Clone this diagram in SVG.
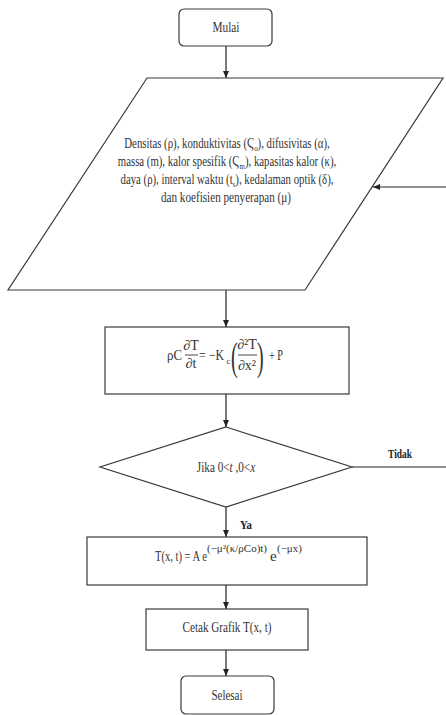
<svg xmlns="http://www.w3.org/2000/svg" width="446" height="715" viewBox="0 0 446 715">
<style>
.s{fill:#fff;stroke:#3a3a3a;stroke-width:1.2}
.c{fill:none;stroke:#222;stroke-width:1.2}
.t{font-family:"Liberation Serif","Times New Roman",serif;fill:#333;font-size:14px}
.b{font-family:"Liberation Serif","Times New Roman",serif;fill:#222;font-size:13px;font-weight:bold}
.m{font-family:"Liberation Serif","Times New Roman",serif;fill:#333}
</style>
<defs>
<marker id="ah" markerWidth="8" markerHeight="8" refX="7" refY="4" orient="auto" markerUnits="userSpaceOnUse">
<path d="M0,1 L7,4 L0,7 Z" fill="#222"/>
</marker>
</defs>
<rect width="446" height="715" fill="#fff"/>
<g id="connectors">
<line class="c" x1="226" y1="46" x2="226" y2="78" marker-end="url(#ah)"/>
<line class="c" x1="226" y1="290" x2="226" y2="327" marker-end="url(#ah)"/>
<line class="c" x1="226" y1="394" x2="226" y2="427" marker-end="url(#ah)"/>
<line class="c" x1="226" y1="507" x2="226" y2="537" marker-end="url(#ah)"/>
<line class="c" x1="226" y1="585" x2="226" y2="609" marker-end="url(#ah)"/>
<line class="c" x1="226" y1="650" x2="226" y2="676" marker-end="url(#ah)"/>
<line class="c" x1="352" y1="467" x2="446" y2="467"/>
<line class="c" x1="446" y1="187" x2="373" y2="187" marker-end="url(#ah)"/>
<text class="b" x="388" y="458" textLength="24" lengthAdjust="spacingAndGlyphs">Tidak</text>
<text class="b" x="240" y="529" textLength="12" lengthAdjust="spacingAndGlyphs">Ya</text>
</g>
<g id="mulai">
<rect class="s" x="179" y="9" width="93" height="37" rx="5"/>
<text class="t" x="226" y="32" text-anchor="middle" textLength="27" lengthAdjust="spacingAndGlyphs">Mulai</text>
</g>
<g id="input">
<polygon class="s" points="147,78 443,78 305,290 8,290"/>
<text class="t" transform="translate(227,148) scale(0.77,1)" text-anchor="middle">Densitas  (ρ), konduktivitas (Ϛ<tspan font-size="9" dy="3">o</tspan><tspan dy="-3">), difusivitas (α),</tspan></text>
<text class="t" transform="translate(227,166) scale(0.77,1)" text-anchor="middle">massa (m), kalor spesifik (Ϛ<tspan font-size="9" dy="3">m</tspan><tspan dy="-3">), kapasitas kalor (κ),</tspan></text>
<text class="t" transform="translate(227,184) scale(0.77,1)" text-anchor="middle">daya (ρ), interval waktu (t<tspan font-size="9" dy="3">s</tspan><tspan dy="-3">), kedalaman optik (δ),</tspan></text>
<text class="t" x="226" y="202" text-anchor="middle" textLength="130" lengthAdjust="spacingAndGlyphs">dan koefisien penyerapan (μ)</text>
</g>
<g id="persamaan">
<rect class="s" x="105" y="327" width="244" height="67"/>
<text class="m" font-size="15" x="167" y="360" textLength="15" lengthAdjust="spacingAndGlyphs">ρC</text>
<text class="m" font-size="14" x="191" y="350" text-anchor="middle">∂T</text>
<line x1="185" y1="355" x2="198" y2="355" stroke="#333" stroke-width="0.9"/>
<text class="m" font-size="14" x="191" y="368" text-anchor="middle">∂t</text>
<text class="m" font-size="15" x="199" y="360" textLength="25" lengthAdjust="spacingAndGlyphs">= −K</text>
<text class="m" font-size="9" x="226.5" y="364">c</text>
<text class="m" font-size="40" transform="translate(231,370) scale(0.5,1)">(</text>
<text class="m" font-size="14" x="247" y="349" text-anchor="middle">∂²T</text>
<line x1="238" y1="355" x2="257" y2="355" stroke="#333" stroke-width="0.9"/>
<text class="m" font-size="14" x="247" y="370" text-anchor="middle">∂x²</text>
<text class="m" font-size="40" transform="translate(257,370) scale(0.5,1)">)</text>
<text class="m" font-size="15" x="269" y="360" textLength="14" lengthAdjust="spacingAndGlyphs">+ P</text>
</g>
<g id="kondisi">
<polygon class="s" points="226,427 352,467 226,507 100,467"/>
<text class="t" transform="translate(226,472) scale(0.8,1)" text-anchor="middle">Jika 0&lt;<tspan font-style="italic">t</tspan> ,0&lt;<tspan font-style="italic">x</tspan></text>
</g>
<g id="solusi">
<rect class="s" x="87" y="537" width="280" height="48"/>
<text class="m" font-size="15" x="155" y="561" textLength="52" lengthAdjust="spacingAndGlyphs">T(x, t) = A e</text>
<text class="m" font-size="11" x="207" y="552">(−μ²(κ/ρCo)t)</text>
<text class="m" font-size="15" x="270" y="561">e</text>
<text class="m" font-size="11" x="277" y="552">(−μx)</text>
</g>
<g id="cetak">
<rect class="s" x="146" y="609" width="162" height="41"/>
<text class="t" x="227" y="632" text-anchor="middle" textLength="89" lengthAdjust="spacingAndGlyphs">Cetak Grafik T(x, t)</text>
</g>
<g id="selesai">
<rect class="s" x="181" y="676" width="93" height="38" rx="5"/>
<text class="t" x="227" y="700" text-anchor="middle" textLength="31" lengthAdjust="spacingAndGlyphs">Selesai</text>
</g>
</svg>
